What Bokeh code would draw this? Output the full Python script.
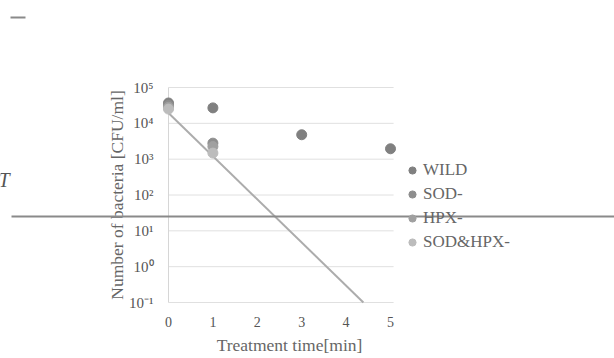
import math
from bokeh.plotting import figure
from bokeh.models import (Legend, LegendItem, FixedTicker, BoxAnnotation, Range1d,
                          LogAxis, LinearAxis, Label)
from bokeh.embed import file_html
from bokeh.resources import INLINE

# ---- data ----
wild_x = [0, 1, 3, 5]
wild_y = [37000, 27000, 4800, 1950]
sod_x = [0, 1]
sod_y = [32000, 2800]
hpx_x = [0, 1]
hpx_y = [28000, 2250]
sodhpx_x = [0, 1]
sodhpx_y = [25000, 1480]
trend_x = [0, 4.39]
trend_y = [19500, 0.1]

series_names = ["WILD", "SOD-", "HPX-", "SOD&HPX-"]
series_colors = ["#808080", "#8e8e8e", "#a0a0a0", "#bcbcbc"]

y_ticks = [0.1, 1, 10, 100, 1000, 10000, 100000]
y_tick_labels = ["10\u207b\u00b9", "10\u2070", "10\u00b9", "10\u00b2", "10\u00b3", "10\u2074", "10\u2075"]
x_ticks = [0, 1, 2, 3, 4, 5]

# ---- layout (pixels) ----
W, H = 614, 358
X0_PX = 168.0          # where x = 0 sits
PX_PER_MIN = 44.4
Y_TOP_PX, Y_BOT_PX = 87.0, 302.0   # 10^5 and 10^-1 gridlines
Y_MIN, Y_MAX = 0.1, 100000.0
X_END = 5.07           # right end of the plot area

dec_px = (Y_BOT_PX - Y_TOP_PX) / (math.log10(Y_MAX) - math.log10(Y_MIN))
x_start = -X0_PX / PX_PER_MIN
x_end = (W - X0_PX) / PX_PER_MIN
y_start = 10 ** (math.log10(Y_MIN) - (H - Y_BOT_PX) / dec_px)
y_end = 10 ** (math.log10(Y_MAX) + Y_TOP_PX / dec_px)

FONT = "Liberation Serif"
TICK_TXT = "#555555"
TXT = "#666666"
GRID = "#e0e0e0"

p = figure(width=W, height=H, y_axis_type="log",
           x_range=Range1d(x_start, x_end), y_range=Range1d(y_start, y_end),
           x_axis_location=None, y_axis_location=None,
           output_backend="svg", toolbar_location=None,
           min_border=0)
p.outline_line_color = None
p.background_fill_color = "white"
p.border_fill_color = "white"
p.grid.grid_line_color = None

# horizontal gridlines (plot area only) and vertical axis line
p.segment(x0=[0] * len(y_ticks), x1=[X_END] * len(y_ticks), y0=y_ticks, y1=y_ticks,
          line_color=GRID, line_width=1)
p.segment(x0=[0], x1=[0], y0=[Y_MIN], y1=[Y_MAX], line_color="#d6d6d6", line_width=1)

# axes
yax = LogAxis(fixed_location=0, bounds=(Y_MIN, Y_MAX),
              ticker=FixedTicker(ticks=y_ticks),
              major_label_overrides={t: l for t, l in zip(y_ticks, y_tick_labels)},
              axis_label="Number of bacteria [CFU/ml]")
xax = LinearAxis(fixed_location=Y_MIN, bounds=(0, 5.45),
                 ticker=FixedTicker(ticks=x_ticks),
                 axis_label="Treatment time[min]")
for ax in (xax, yax):
    ax.axis_line_color = None
    ax.major_tick_line_color = None
    ax.minor_tick_line_color = None
    ax.major_tick_out = 0
    ax.major_tick_in = 0
    ax.major_label_text_font = FONT
    ax.major_label_text_color = TICK_TXT
    ax.axis_label_text_font = FONT
    ax.axis_label_text_font_size = "17.5px"
    ax.axis_label_text_font_style = "normal"
    ax.axis_label_text_color = TXT
xax.major_label_text_font_size = "14px"
yax.major_label_text_font_size = "15px"
xax.major_label_standoff = 14
xax.axis_label_standoff = 5
yax.major_label_standoff = 15
yax.axis_label_standoff = -1
p.add_layout(yax, "left")
p.add_layout(xax, "below")

# trend line
p.line(trend_x, trend_y, line_color="#acacac", line_width=2)

renderers = []
for xs, ys, c in zip([wild_x, sod_x, hpx_x, sodhpx_x],
                     [wild_y, sod_y, hpx_y, sodhpx_y], series_colors):
    r = p.scatter(xs, ys, size=10, fill_color=c, line_color=c)
    renderers.append(r)

legend = Legend(items=[LegendItem(label=n, renderers=[r]) for n, r in zip(series_names, renderers)],
                location=(403, 106), orientation="vertical")
legend.label_text_font = FONT
legend.label_text_font_size = "17px"
legend.label_text_color = TXT
legend.glyph_width = 18
legend.glyph_height = 18
legend.label_height = 20
legend.spacing = 4
legend.label_standoff = 2
legend.padding = 0
legend.margin = 0
legend.border_line_color = None
legend.background_fill_alpha = 0
p.add_layout(legend, "center")

# scan artefacts of the source image
p.add_layout(BoxAnnotation(left=10, right=25, top=16, bottom=18,
                           left_units="canvas", right_units="canvas",
                           top_units="canvas", bottom_units="canvas",
                           fill_color="#8a8a8a", fill_alpha=1, line_color=None))
p.add_layout(BoxAnnotation(left=11, right=W, top=215, bottom=217,
                           left_units="canvas", right_units="canvas",
                           top_units="canvas", bottom_units="canvas",
                           fill_color="#8a8a8a", fill_alpha=1, line_color=None))
p.add_layout(Label(x=-2, y=168, x_units="canvas", y_units="canvas", text="T",
                   text_font=FONT, text_font_style="italic", text_font_size="20px",
                   text_color="#555555", text_baseline="top"))

open("out.html", "w").write(file_html(p, INLINE))
